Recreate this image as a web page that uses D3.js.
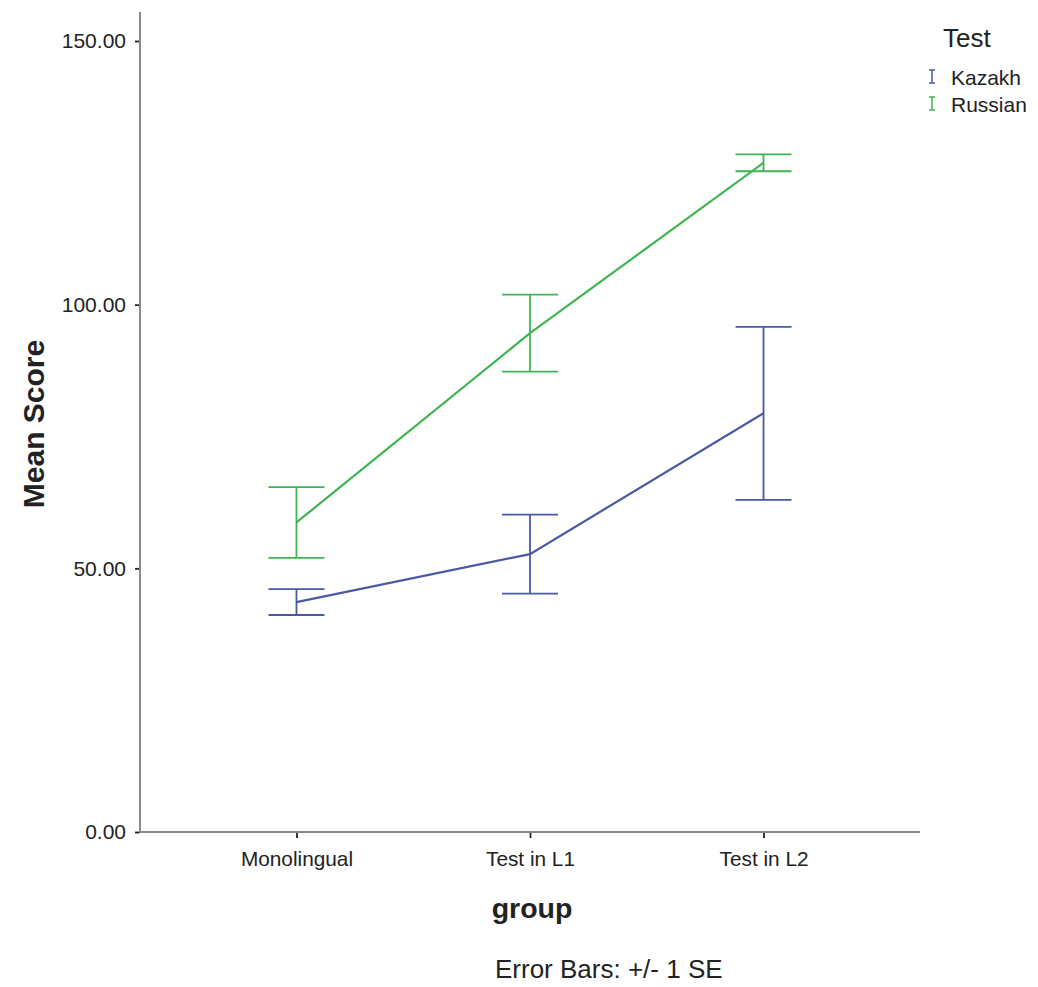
<!DOCTYPE html>
<html>
<head>
    <meta charset="UTF-8">
    <title>Mean Score by group</title>
    <script src="https://cdn.jsdelivr.net/npm/d3@7"></script>
    <style>
        body { margin: 0; background: #fff; }
        text { font-family: "Liberation Sans", Arial, sans-serif; fill: #222; }
    </style>
</head>
<body>
    <div id="chart"></div>
    <script>
    // data
    const groups = ["Monolingual", "Test in L1", "Test in L2"];
    const tests = ["Kazakh", "Russian"];
    const kazakhMean = [43.6, 52.7, 79.4];
    const kazakhSE = [2.45, 7.5, 16.4];
    const russianMean = [58.7, 94.6, 126.9];
    const russianSE = [6.7, 7.3, 1.6];
    const yTicks = [0, 50, 100, 150];

    const colors = {Kazakh: "#4a59a7", Russian: "#3fb54f"};

    const width = 1038, height = 987;
    const svg = d3.select("#chart")
        .append("svg")
        .attr("width", width)
        .attr("height", height);

    const y = d3.scaleLinear().domain([0, 150]).range([832, 41]);
    const x = d3.scalePoint().domain(groups).range([140, 920]).padding(0.67);

    const series = [
        {name: "Kazakh", mean: kazakhMean, se: kazakhSE},
        {name: "Russian", mean: russianMean, se: russianSE}
    ];

    // axes
    const yAxis = svg.append("g")
        .attr("transform", "translate(140,0)")
        .call(d3.axisLeft(y).tickValues(yTicks).tickSize(5).tickPadding(9).tickFormat(d3.format(".2f")));
    yAxis.select(".domain").remove();
    yAxis.selectAll(".tick line").attr("stroke", "#222").attr("stroke-width", 1.8);
    yAxis.selectAll(".tick text").style("font-size", "21px").attr("fill", "#222");

    const xAxis = svg.append("g")
        .attr("transform", "translate(0,832)")
        .call(d3.axisBottom(x).tickSize(6).tickPadding(13));
    xAxis.select(".domain").remove();
    xAxis.selectAll(".tick line").attr("stroke", "#222").attr("stroke-width", 1.8);
    xAxis.selectAll(".tick text").style("font-size", "20.8px").attr("fill", "#222");

    svg.append("line")
        .attr("x1", 140).attr("x2", 140)
        .attr("y1", 12).attr("y2", 833)
        .attr("stroke", "#8a8a8a").attr("stroke-width", 2);
    svg.append("line")
        .attr("x1", 139).attr("x2", 920)
        .attr("y1", 832).attr("y2", 832)
        .attr("stroke", "#8a8a8a").attr("stroke-width", 2);

    // error bars
    const capHalf = 28;
    series.forEach(function(s) {
        const g = svg.append("g");
        const pts = groups.map((grp, i) => ({grp: grp, m: s.mean[i], se: s.se[i]}));
        g.append("g").selectAll("line")
            .data(pts)
            .join("line")
            .attr("x1", d => x(d.grp)).attr("x2", d => x(d.grp))
            .attr("y1", d => y(d.m + d.se)).attr("y2", d => y(d.m - d.se))
            .attr("stroke", colors[s.name]).attr("stroke-width", 1.8);
        g.append("g").selectAll("line")
            .data(pts)
            .join("line")
            .attr("x1", d => x(d.grp) - capHalf).attr("x2", d => x(d.grp) + capHalf)
            .attr("y1", d => y(d.m + d.se)).attr("y2", d => y(d.m + d.se))
            .attr("stroke", colors[s.name]).attr("stroke-width", 1.8);
        g.append("g").selectAll("line")
            .data(pts)
            .join("line")
            .attr("x1", d => x(d.grp) - capHalf).attr("x2", d => x(d.grp) + capHalf)
            .attr("y1", d => y(d.m - d.se)).attr("y2", d => y(d.m - d.se))
            .attr("stroke", colors[s.name]).attr("stroke-width", 1.8);

        // mean line
        g.append("path")
            .datum(pts)
            .attr("fill", "none")
            .attr("stroke", colors[s.name])
            .attr("stroke-width", 2.2)
            .attr("d", d3.line().x(d => x(d.grp)).y(d => y(d.m)));
    });

    // axis titles
    svg.append("text")
        .attr("transform", "translate(44,424) rotate(-90)")
        .attr("text-anchor", "middle")
        .style("font-size", "30px")
        .style("font-weight", "bold")
        .attr("fill", "#111")
        .text("Mean Score");

    svg.append("text")
        .attr("x", 532).attr("y", 918)
        .attr("text-anchor", "middle")
        .style("font-size", "28.5px")
        .style("font-weight", "bold")
        .attr("fill", "#111")
        .text("group");

    svg.append("text")
        .attr("x", 495).attr("y", 978)
        .style("font-size", "26px")
        .text("Error Bars: +/- 1 SE");

    // legend
    svg.append("text")
        .attr("x", 943).attr("y", 47)
        .style("font-size", "26px")
        .text("Test");

    const legend = svg.append("g").selectAll("g")
        .data(tests)
        .join("g")
        .attr("transform", (d, i) => `translate(932,${77 + i * 27})`);
    legend.append("path")
        .attr("d", "M-3,-7H3M0,-7V6M-3,6H3")
        .attr("fill", "none")
        .attr("stroke", d => colors[d])
        .attr("stroke-width", 1.5);
    legend.append("text")
        .attr("x", 19).attr("y", 8)
        .style("font-size", "21px")
        .text(d => d);
    </script>
</body>
</html>
